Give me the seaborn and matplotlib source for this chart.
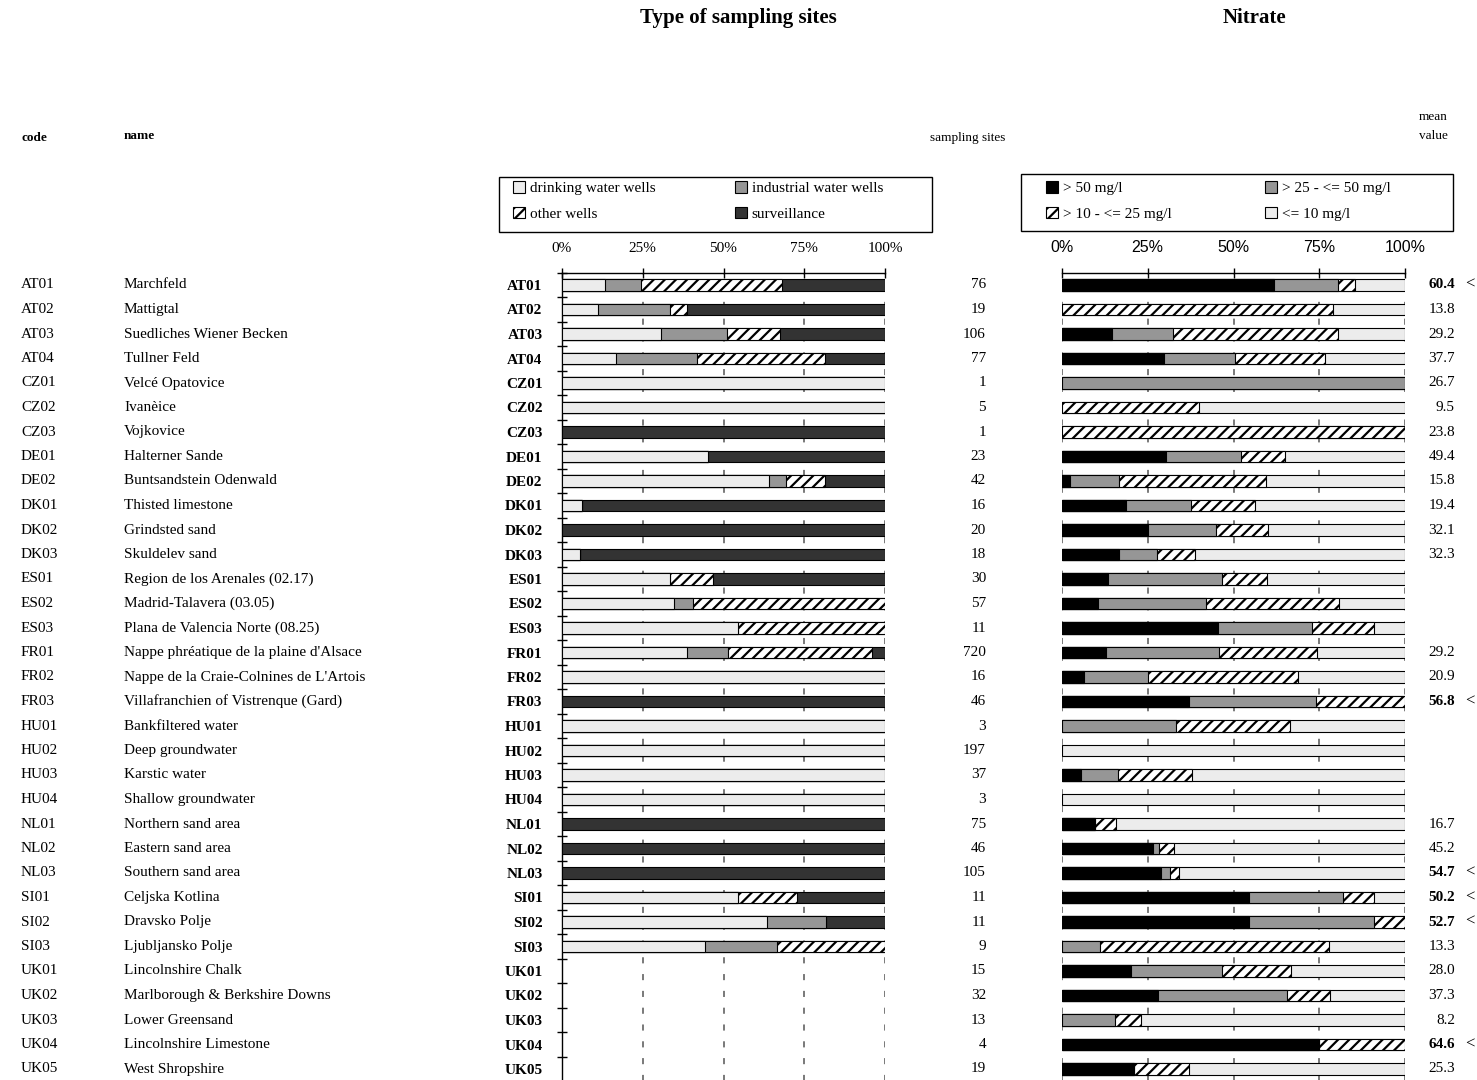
import numpy as np
import pandas as pd
import matplotlib
matplotlib.use("Agg")
import matplotlib.pyplot as plt
import seaborn as sns
from matplotlib.patches import Patch, Rectangle
from matplotlib.transforms import blended_transform_factory as btf

# ---------------- data ----------------
codes = ["AT01", "AT02", "AT03", "AT04", "CZ01", "CZ02", "CZ03", "DE01", "DE02",
         "DK01", "DK02", "DK03", "ES01", "ES02", "ES03", "FR01", "FR02", "FR03",
         "HU01", "HU02", "HU03", "HU04", "NL01", "NL02", "NL03", "SI01", "SI02",
         "SI03", "UK01", "UK02", "UK03", "UK04", "UK05"]
names = ["Marchfeld", "Mattigtal", "Suedliches Wiener Becken", "Tullner Feld",
         "Velcé Opatovice", "Ivanèice", "Vojkovice", "Halterner Sande",
         "Buntsandstein Odenwald", "Thisted limestone", "Grindsted sand",
         "Skuldelev sand", "Region de los Arenales (02.17)", "Madrid-Talavera (03.05)",
         "Plana de Valencia Norte (08.25)", "Nappe phréatique de la plaine d'Alsace",
         "Nappe de la Craie-Colnines de L'Artois", "Villafranchien of Vistrenque (Gard)",
         "Bankfiltered water", "Deep groundwater", "Karstic water",
         "Shallow groundwater", "Northern sand area", "Eastern sand area",
         "Southern sand area", "Celjska Kotlina", "Dravsko Polje", "Ljubljansko Polje",
         "Lincolnshire Chalk", "Marlborough & Berkshire Downs", "Lower Greensand",
         "Lincolnshire Limestone", "West Shropshire"]
n_sites = [76, 19, 106, 77, 1, 5, 1, 23, 42, 16, 20, 18, 30, 57, 11, 720, 16, 46,
           3, 197, 37, 3, 75, 46, 105, 11, 11, 9, 15, 32, 13, 4, 19]
mean_values = ["60.4", "13.8", "29.2", "37.7", "26.7", "9.5", "23.8", "49.4", "15.8",
               "19.4", "32.1", "32.3", "", "", "", "29.2", "20.9", "56.8", "", "", "",
               "", "16.7", "45.2", "54.7", "50.2", "52.7", "13.3", "28.0", "37.3",
               "8.2", "64.6", "25.3"]
mean_above = [True, False, False, False, False, False, False, False, False, False,
              False, False, False, False, False, False, False, True, False, False,
              False, False, False, False, True, True, True, False, False, False,
              False, True, False]

# type of sampling sites (% of sites)
drinking = [13.4, 11.2, 30.7, 16.7, 100, 100, 0, 45.2, 64.0, 6.3, 0, 5.6, 33.3, 34.7,
            54.5, 38.8, 100, 0, 100, 100, 100, 100, 0, 0, 0, 54.5, 63.6, 44.4,
            0, 0, 0, 0, 0]
industrial = [11.2, 22.2, 20.5, 25.1, 0, 0, 0, 0, 5.2, 0, 0, 0, 0, 5.8, 0, 12.5, 0, 0,
              0, 0, 0, 0, 0, 0, 0, 0, 18.2, 22.2, 0, 0, 0, 0, 0]
other_wells = [43.5, 5.3, 16.2, 39.5, 0, 0, 0, 0, 12.1, 0, 0, 0, 13.3, 59.5, 45.5,
               44.8, 0, 0, 0, 0, 0, 0, 0, 0, 0, 18.2, 0, 33.4, 0, 0, 0, 0, 0]
surveillance = [31.9, 61.3, 32.6, 18.7, 0, 0, 100, 54.8, 18.7, 93.7, 100, 94.4, 53.4,
                0, 0, 3.9, 0, 100, 0, 0, 0, 0, 100, 100, 100, 27.3, 18.2, 0,
                0, 0, 0, 0, 0]

# nitrate classes (% of sites)
above50 = [61.8, 0, 14.6, 29.8, 0, 0, 0, 30.4, 2.4, 18.8, 25.0, 16.7, 13.3, 10.5,
           45.5, 12.8, 6.3, 37.0, 0, 0, 5.4, 0, 9.5, 26.6, 28.9, 54.5, 54.5, 0,
           20.0, 28.1, 0, 75.0, 21.1]
from25to50 = [18.6, 0, 17.9, 20.5, 100, 0, 0, 21.7, 14.3, 18.7, 20.0, 11.1, 33.3,
              31.6, 27.3, 33.1, 18.7, 37.0, 33.3, 0, 10.8, 0, 0, 1.6, 2.5, 27.3,
              36.4, 11.1, 26.7, 37.5, 15.4, 0, 0]
from10to25 = [5.1, 78.9, 48.1, 26.4, 0, 40.0, 100, 13.0, 42.9, 18.8, 15.0, 11.1,
              13.3, 38.6, 18.2, 28.3, 43.7, 26.0, 33.3, 0, 21.6, 0, 6.1, 4.5, 2.6,
              9.1, 9.1, 66.7, 20.0, 12.5, 7.7, 25.0, 15.8]
below10 = [14.5, 21.1, 19.4, 23.3, 0, 60.0, 0, 34.9, 40.4, 43.7, 40.0, 61.1, 40.1,
           19.3, 9.0, 25.8, 31.3, 0, 33.4, 100, 62.2, 100, 84.4, 67.3, 66.0, 9.1,
           0, 22.2, 33.3, 21.9, 76.9, 0, 63.1]

type_labels = ["drinking water wells", "industrial water wells", "other wells", "surveillance"]
nitrate_labels = ["> 50 mg/l", "> 25 - <= 50 mg/l", "> 10 - <= 25 mg/l", "<= 10 mg/l"]
pct_ticks = [0, 25, 50, 75, 100]
pct_labels = ["0%", "25%", "50%", "75%", "100%"]

# ---------------- style ----------------
sns.set_theme(style="white")
SERIF = ["Liberation Serif", "DejaVu Serif"]
SANS = ["Liberation Sans", "DejaVu Sans"]
plt.rcParams["font.family"] = SERIF
plt.rcParams["text.color"] = "black"
plt.rcParams["xtick.color"] = "black"
plt.rcParams["ytick.color"] = "black"
plt.rcParams["axes.labelcolor"] = "black"
plt.rcParams["hatch.linewidth"] = 1.6
plt.rcParams["hatch.color"] = "black"

W, H = 1477, 1080
fig = plt.figure(figsize=(W / 100, H / 100), dpi=100)
fig.patch.set_facecolor("white")


def fx(px):
    return px / W


def fy(py):
    return 1 - py / H


n = len(codes)
row_h = 24.5
top_px = 285 - row_h / 2
bot_px = top_px + row_h * n
ax_l = fig.add_axes([fx(562), fy(bot_px), fx(885) - fx(562), (bot_px - top_px) / H])
ax_r = fig.add_axes([fx(1062), fy(bot_px), fx(1405) - fx(1062), (bot_px - top_px) / H])

type_styles = [dict(color="#ececec", hatch=None), dict(color="#969696", hatch=None),
               dict(color="white", hatch="///"), dict(color="#333333", hatch=None)]
nitr_styles = [dict(color="black", hatch=None), dict(color="#969696", hatch=None),
               dict(color="white", hatch="///"), dict(color="#ececec", hatch=None)]


def stacked(ax, segs, styles):
    cum = np.cumsum(np.column_stack(segs), axis=1)
    for k in reversed(range(len(segs))):
        d = pd.DataFrame({"code": codes, "end": cum[:, k]})
        d = d[d["end"] > 0]
        kw = dict(edgecolor="black", linewidth=0.8)
        if styles[k]["hatch"]:
            kw["hatch"] = styles[k]["hatch"]
        sns.barplot(data=d, y="code", x="end", order=codes, orient="h", ax=ax,
                    width=0.45, color=styles[k]["color"], saturation=1,
                    errorbar=None, zorder=3, **kw)


stacked(ax_l, [drinking, industrial, other_wells, surveillance], type_styles)
stacked(ax_r, [above50, from25to50, from10to25, below10], nitr_styles)

for ax in (ax_l, ax_r):
    ax.set_xlim(0, 100)
    ax.set_ylim(n - 0.5, -0.5)
    ax.set_xlabel("")
    ax.set_ylabel("")
    ax.set_facecolor("white")
    ax.set_axisbelow(True)
    ax.xaxis.set_ticks_position("top")
    ax.set_xticks(pct_ticks)
    ax.xaxis.grid(True, linestyle=(0, (4, 7)), color="#555555", linewidth=1.1)
    ax.yaxis.grid(False)
    for s in ("right", "bottom"):
        ax.spines[s].set_visible(False)
    ax.spines["top"].set_color("black")
    ax.spines["top"].set_linewidth(1)
    ax.tick_params(axis="x", direction="inout", length=7, width=1, color="black",
                   pad=9.5, labelsize=11, labelcolor="black", top=True, bottom=False)

# left chart specifics
ax_l.spines["left"].set_color("black")
ax_l.spines["left"].set_linewidth(1)
ax_l.set_xticklabels(pct_labels, fontfamily=SERIF)
ax_l.set_yticks(range(n))
ax_l.set_yticklabels(codes, fontweight="bold", fontsize=11, fontfamily=SERIF)
ax_l.tick_params(axis="y", which="major", length=0, pad=14, left=True, labelcolor="black")
ax_l.set_yticks(np.arange(-0.5, n, 1), minor=True)
ax_l.tick_params(axis="y", which="minor", direction="inout", length=7, width=1,
                 color="black", left=True)

# right chart specifics
ax_r.spines["left"].set_visible(False)
ax_r.set_xticklabels(pct_labels, fontfamily=SANS, fontsize=11.5)
ax_r.set_yticks([])

# ---------------- row texts ----------------
tr = btf(fig.transFigure, ax_l.transData)
for i in range(n):
    fig.text(fx(21), i, codes[i], transform=tr, fontsize=11, ha="left", va="center")
    fig.text(fx(124), i, names[i], transform=tr, fontsize=11, ha="left", va="center")
    fig.text(fx(986), i, str(n_sites[i]), transform=tr, fontsize=11, ha="right", va="center")
    if mean_values[i]:
        fig.text(fx(1455), i, mean_values[i], transform=tr, fontsize=11, ha="right",
                 va="center", fontweight="bold" if mean_above[i] else "normal")
        if mean_above[i]:
            fig.text(fx(1470), i, "<", transform=tr, fontsize=12, ha="center", va="center")

# ---------------- headers ----------------
fig.text(fx(738), fy(18), "Type of sampling sites", fontsize=15, fontweight="bold",
         ha="center", va="center")
fig.text(fx(1254), fy(18), "Nitrate", fontsize=15, fontweight="bold",
         ha="center", va="center")
fig.text(fx(21), fy(138), "code", fontsize=9.5, fontweight="bold", ha="left", va="center")
fig.text(fx(124), fy(136), "name", fontsize=9.5, fontweight="bold", ha="left", va="center")
fig.text(fx(968), fy(138), "sampling sites", fontsize=9.5, ha="center", va="center")
fig.text(fx(1433), fy(117), "mean", fontsize=9.5, ha="center", va="center")
fig.text(fx(1433), fy(136), "value", fontsize=9.5, ha="center", va="center")


# ---------------- legends ----------------
def handles(styles):
    return [Patch(facecolor=st["color"], edgecolor="black", linewidth=0.8,
                  hatch=st["hatch"]) for st in styles]


def put_legend(styles, labels, box, first_x, top_y, colspace):
    x0, y0, x1, y1 = box
    fig.patches.append(Rectangle((fx(x0), fy(y1)), fx(x1) - fx(x0), fy(y0) - fy(y1),
                                 transform=fig.transFigure, facecolor="white",
                                 edgecolor="black", linewidth=1, zorder=1))
    hs = handles(styles)
    order = [0, 2, 1, 3]
    leg = fig.legend([hs[k] for k in order], [labels[k] for k in order], ncol=2,
                     loc="upper left", bbox_to_anchor=(fx(first_x), fy(top_y)),
                     frameon=False, borderaxespad=0, borderpad=0, labelspacing=0.75,
                     columnspacing=colspace,
                     handlelength=0.8, handleheight=0.8, handletextpad=0.3,
                     prop={"family": SERIF, "size": 11})
    leg.set_zorder(2)
    return leg


put_legend(type_styles, type_labels, (499, 177, 932, 232), 513, 181, 5.2)
put_legend(nitr_styles, nitrate_labels, (1021, 174, 1453, 231), 1046, 181, 6.1)

fig.savefig("out.png", dpi=100, facecolor="white")
